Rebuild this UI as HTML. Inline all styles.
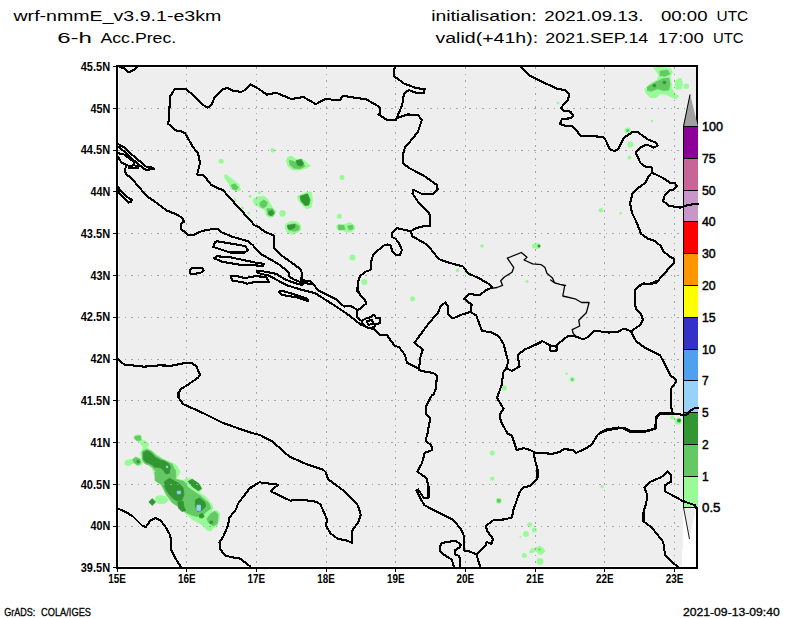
<!DOCTYPE html><html><head><meta charset="utf-8"><style>html,body{margin:0;padding:0;background:#fff;width:800px;height:618px;overflow:hidden}svg{display:block}text{font-family:"Liberation Sans",sans-serif}</style></head><body>
<svg width="800" height="618" viewBox="0 0 800 618">
<rect x="119" y="68" width="577" height="498" fill="#eeeeee"/>
<rect x="683" y="508" width="14" height="59" fill="#fff"/><rect x="682" y="549" width="1" height="18" fill="#fff"/>
<path d="M134.2,436.1 137.2,434.7 141,435.7 141.8,439.9 144.8,440.6 148.6,443.7 148.2,446 146.3,447.5 150.9,450.2 153.9,452.8 158.5,455.9 162.3,458.9 167.6,461.2 173.7,463.5 176.8,465.7 179.8,471.4 178.3,475.6 175.2,477 161.5,477 153.9,474.1 152.4,468 149.4,465 144.8,462.7 142.5,460.4 141,455.1 140.3,452.8 142.2,450.5 143.3,447.5 141,444.4 140.3,442.2 136.4,440.6 134.2,438.4Z M125,461.2 129.6,459.3 131.9,460 134.9,457 139.5,458.1 142.5,461.9 141,465.4 137.2,465.7 133.4,462.7 130.4,465 127.3,465.7 125,464.2Z M155,470 178.8,470 179.8,472.1 175.7,479.3 184,480.4 186.1,478.3 188.1,478.3 192.3,479.3 200.5,484.5 201.6,489.7 198.5,492.8 204.7,495.9 211.9,504.2 213,508.3 210.9,511.4 217.1,510.4 219.7,513.5 219.2,519.7 217.1,525.9 213,528 210.9,531.1 206.8,530 203.7,525.9 196.4,521.8 191.2,518.7 188.1,515.5 183,511.4 175.7,504.2 170.5,499 165.4,490.7 161.2,482.4 155,476.2Z M155.6,497 160,495.5 166,496.5 168.3,500 165,503.5 158,503.5 155.6,501Z M157,476.5 160,477 160,480 157,480Z M287.5,157.5 291.2,156.2 296.2,159.4 302.5,158.8 307.5,163.8 310.6,165.6 307.5,167.5 300,170 292.5,170 288.1,166.2 286.2,161.2Z M297.5,196.2 306.2,192.5 311.2,191.9 312.5,200 311.2,207.5 306.2,208.8 301.2,203.8 298.1,199.4Z M225,174.4 227.5,175.6 233.8,180.6 238.8,184.4 240.6,190 236.2,191.2 231.2,188.8 228.8,183.8 226.2,180 224.4,176.9Z M253.8,198.8 257.5,196.9 263.8,196.2 267.5,198.8 269.4,202.5 272.5,207.5 275.6,211.2 273.8,216.2 268.8,217.5 266.2,215 265,210 260,207.5 255,205 253.1,201.2Z M286.2,223.8 291.2,221.2 297.5,221.9 300.6,225 300.6,230 296.9,232.5 292.5,234.4 287.5,232.5 285,227.5Z M337.5,225 345,224.4 350,222.5 354.4,225.6 355,228.8 351.2,231.9 346.2,231.9 342.5,230 337.5,229.4 336.2,227.5Z M653.1,66.9 670,68.1 672.5,72.5 670,76.2 671.2,82.5 671.9,88.8 675,93.8 678.8,96.2 676.2,98.8 672.5,97.5 666.2,94.4 660,93.8 656.2,97.5 650,97.5 645.6,92.5 645,88.8 650,83.8 657.5,80 658.8,75 656.2,71.2Z M676.2,80 681.2,78.1 682.5,83.8 681.2,88.8 676.2,89.4 675,85Z M529.2,552.2 531.2,549 536,547.8 539.3,546.1 543.3,548.2 544.9,551.4 541.7,554.6 538.5,553.8 536,550.6 532.8,552.6Z" fill="#98fb98" stroke="#98fb98" stroke-width="0.8" stroke-linejoin="round"/>
<circle cx="686.2" cy="86.2" r="2.8" fill="#98fb98"/>
<circle cx="282.5" cy="213.8" r="3" fill="#98fb98"/>
<circle cx="221.2" cy="161.2" r="2.5" fill="#98fb98"/>
<circle cx="250" cy="196.2" r="1.5" fill="#98fb98"/>
<circle cx="242.5" cy="208" r="1.5" fill="#98fb98"/>
<circle cx="248.8" cy="213" r="1.5" fill="#98fb98"/>
<circle cx="259.4" cy="192.5" r="1.5" fill="#98fb98"/>
<circle cx="272.5" cy="150.6" r="2" fill="#98fb98"/>
<circle cx="235" cy="200" r="1.5" fill="#98fb98"/>
<circle cx="282.5" cy="213" r="3" fill="#98fb98"/>
<circle cx="339.4" cy="216.2" r="2.5" fill="#98fb98"/>
<circle cx="352.5" cy="257.5" r="3" fill="#98fb98"/>
<circle cx="364.4" cy="281.9" r="3" fill="#98fb98"/>
<circle cx="342" cy="177.5" r="2.5" fill="#98fb98"/>
<circle cx="272.5" cy="150" r="2" fill="#98fb98"/>
<circle cx="627.6" cy="130.4" r="3" fill="#98fb98"/>
<circle cx="630.4" cy="144.4" r="3" fill="#98fb98"/>
<circle cx="629.4" cy="157.6" r="2" fill="#98fb98"/>
<circle cx="558" cy="103" r="1.5" fill="#98fb98"/>
<circle cx="652" cy="121" r="1.2" fill="#98fb98"/>
<circle cx="600.9" cy="210.3" r="2.2" fill="#98fb98"/>
<circle cx="620.6" cy="213.2" r="1.2" fill="#98fb98"/>
<circle cx="537.5" cy="246" r="3" fill="#98fb98"/>
<circle cx="534.5" cy="246" r="2.5" fill="#98fb98"/>
<circle cx="482" cy="246" r="1.8" fill="#98fb98"/>
<circle cx="457.5" cy="270.4" r="1.8" fill="#98fb98"/>
<circle cx="466" cy="272" r="1.5" fill="#98fb98"/>
<circle cx="527" cy="281.6" r="1.5" fill="#98fb98"/>
<circle cx="412.5" cy="298.8" r="2.5" fill="#98fb98"/>
<circle cx="504.4" cy="387.9" r="2.5" fill="#98fb98"/>
<circle cx="572.2" cy="379.4" r="2.5" fill="#98fb98"/>
<circle cx="566.6" cy="373.8" r="1.2" fill="#98fb98"/>
<circle cx="678.3" cy="421.2" r="3.5" fill="#98fb98"/>
<circle cx="672.3" cy="417.4" r="2.2" fill="#98fb98"/>
<circle cx="492.2" cy="452.9" r="2.5" fill="#98fb98"/>
<circle cx="492.2" cy="478.6" r="2.2" fill="#98fb98"/>
<circle cx="498.8" cy="500.7" r="3" fill="#98fb98"/>
<circle cx="529.6" cy="524.7" r="2.5" fill="#98fb98"/>
<circle cx="534.3" cy="530.1" r="2.5" fill="#98fb98"/>
<circle cx="526" cy="534" r="3" fill="#98fb98"/>
<circle cx="520.5" cy="537" r="1" fill="#98fb98"/>
<circle cx="524.3" cy="555.4" r="2.5" fill="#98fb98"/>
<circle cx="540" cy="561.6" r="3.5" fill="#98fb98"/>
<circle cx="602.2" cy="486.6" r="1.8" fill="#98fb98"/>
<path d="M134.9,436.5 140.3,435.7 141,439.9 137.2,440.6 134.5,438.4Z M142.2,451.3 146.3,449.4 151.7,451.3 156.2,455.9 161.5,458.9 167.6,461.9 172.2,464.2 174.5,469.5 175.2,475.6 170.7,477 161.5,477 158.5,472.6 154.7,470.3 152.4,467.3 148.6,465 144.8,463.5 142.5,460.4Z M132.6,459.7 135.7,457.4 139.5,458.9 141,462.7 138,465 134.2,462.7Z M155,472.1 161.2,470 175.7,470 175.7,479.3 184,481.4 188.1,487.6 194.3,491.7 200.5,495.9 208.8,503.1 210.9,508.3 206.8,511.4 202.6,515.5 196.4,516.6 190.2,514.5 186.1,512.4 180.9,509.3 177.8,506.2 172.6,503.1 169.5,499 166.4,494.8 163.3,488.6 161.2,484.5 155,480.4Z M210.9,513.5 215,511.4 218.1,514.5 217.1,523.8 213,525.9 208.8,522.8 206.8,518.7Z M289.4,160 295,161.9 301.2,162.5 305,166.2 300,168.8 293.8,168.1 290,165Z M231.2,185 235,183.8 238.1,187.5 236.2,190 232.5,188.8Z M260,202.5 263.8,200 267.5,202.5 266.2,206.2 262.5,208.1 260,205.6Z M266.9,208.8 272.5,208.8 275,212.5 272.5,216.2 268.1,215Z M287.5,225 295,223.8 299.4,226.2 298.8,230 293.8,231.2 288.8,230Z M338.1,225 343.8,225.6 345,229.4 338.8,230Z M347.5,226.2 352.5,225 353.1,228.8 349.4,230Z M660,71.2 667.5,70 670,73.8 665,76.2 660,75.6Z M647.5,86.9 655,82.5 662.5,78.8 668.8,78.1 670,83.8 668.8,90 663.8,90.6 657.5,88.8 651.2,91.2 647.5,90.6Z" fill="#64c864" stroke="#64c864" stroke-width="0.8" stroke-linejoin="round"/>
<circle cx="627.6" cy="130.4" r="1.5" fill="#64c864"/>
<circle cx="572.2" cy="379.4" r="1.2" fill="#64c864"/>
<circle cx="498.8" cy="500.7" r="2" fill="#64c864"/>
<circle cx="539.3" cy="549.4" r="1" fill="#64c864"/>
<path d="M143.3,452.8 147.1,450.5 150.9,452.8 155.5,457.4 160,460 164.6,461.2 168.4,463.5 170.7,467.3 169.1,471.1 167.6,473.3 164.6,471.1 160.8,468 157.7,467.3 154.7,467.3 152.4,465 149.4,463.5 145.6,461.9 143.3,458.9Z M136.8,460.8 138.7,460.4 139.5,462.3 137.6,463.1Z M152.2,498.6 155.6,502 152.2,505.4 148.8,502Z M164.8,481.4 169.5,478.3 173.6,480.4 178.8,483.5 183,487.6 184,494.8 181.9,500 177.8,501.1 173.6,499 169.5,494.8 166.4,490.7 164.3,485.5Z M177.8,502.1 183,501.1 184,507.3 186.1,510.4 181.9,511.4 178.8,508.3Z M188.1,481.4 192.3,479.3 198.5,483.5 201.6,488.6 198.5,490.7 192.3,486.6Z M195.4,500 199.5,498 204.7,502.1 205.7,506.2 201.6,510.4 197.4,511.4 195.4,506.2Z M199.5,514.5 202.6,513.5 204.2,516.6 202.1,518.1 199.5,517.6Z M164.3,470 169.5,470 169.5,473.1 166.4,474.1 164.3,472.1Z M209.9,521.2 212.5,521.2 212.5,523.3 209.9,523.3Z M296.2,160.6 301.2,159.4 303.8,163.8 301.2,166.2 297.5,165Z M300,196.2 307.5,193.8 310,200 308.8,205 305,205.6 301.2,201.2Z M268.8,211.2 272.5,210.6 273.8,213.8 271.2,215.6 268.8,214.4Z M287.5,225.6 295,224.4 295,227.5 290.6,229.4 288.1,228.8Z" fill="#329632" stroke="#329632" stroke-width="0.8" stroke-linejoin="round"/>
<circle cx="654.4" cy="85.6" r="1.8" fill="#329632"/>
<circle cx="664.4" cy="82.5" r="1.8" fill="#329632"/>
<circle cx="539" cy="246" r="1.5" fill="#329632"/>
<circle cx="679" cy="420.5" r="2" fill="#329632"/>
<path d="M166.1,466.1 167.6,466.1 168,467.6 166.7,467.9Z M177.3,491.2 180.4,491.2 180.4,493.8 177.3,493.8Z M196.9,505.2 200.5,505.2 200.5,510.4 196.9,510.4Z" fill="#96d2fa" stroke="#96d2fa" stroke-width="0.8" stroke-linejoin="round"/>
<path d="M186.5,67V567 M256.5,67V567 M326.5,67V567 M395.5,67V567 M465.5,67V567 M535.5,67V567 M604.5,67V567 M674.5,67V567 M118,108.5H696 M118,150.5H696 M118,191.5H696 M118,233.5H696 M118,275.5H696 M118,317.5H696 M118,359.5H696 M118,400.5H696 M118,442.5H696 M118,484.5H696 M118,526.5H682" stroke="#a4a4a4" stroke-width="1" stroke-dasharray="2 4.5 1 5.5" fill="none" shape-rendering="crispEdges"/>
<rect x="117" y="66" width="580" height="502" fill="none" stroke="#000" stroke-width="2"/>
<path d="M683,126.5L690,94L698,126.5Z" fill="#a0a0a0"/>
<path d="M683.5,126.5L690,94.5" stroke="#000" stroke-width="1" fill="none"/>
<rect x="684" y="126" width="14" height="32" fill="#8c0099"/>
<rect x="684" y="158" width="14" height="32" fill="#c86496"/>
<rect x="684" y="190" width="14" height="31" fill="#c896c8"/>
<rect x="684" y="221" width="14" height="32" fill="#ff0000"/>
<rect x="684" y="253" width="14" height="32" fill="#ff9600"/>
<rect x="684" y="285" width="14" height="32" fill="#ffff00"/>
<rect x="684" y="317" width="14" height="32" fill="#3232c8"/>
<rect x="684" y="349" width="14" height="31" fill="#50a0f0"/>
<rect x="684" y="380" width="14" height="32" fill="#96d2fa"/>
<rect x="684" y="412" width="14" height="32" fill="#329632"/>
<rect x="684" y="444" width="14" height="32" fill="#64c864"/>
<rect x="684" y="476" width="14" height="31" fill="#98fb98"/>
<path d="M684,508L689.5,539L696,508Z" fill="#eeeeee"/>
<path d="M683.5,507.5L689.5,539" stroke="#000" stroke-width="0.9" fill="none"/>
<path d="M683,126.5H698 M683,158.5H698 M683,190.5H698 M683,221.5H698 M683,253.5H698 M683,285.5H698 M683,317.5H698 M683,349.5H698 M683,380.5H698 M683,412.5H698 M683,444.5H698 M683,476.5H698 M683,507.5H698 M683.5,126V508" stroke="#000" stroke-width="1" fill="none" shape-rendering="crispEdges"/>
<text x="702" y="130.8" font-size="12" stroke="#000" stroke-width="0.45" textLength="21" lengthAdjust="spacingAndGlyphs" fill="#000">100</text>
<text x="702" y="162.8" font-size="12" stroke="#000" stroke-width="0.45" textLength="13.7" lengthAdjust="spacingAndGlyphs" fill="#000">75</text>
<text x="702" y="194.8" font-size="12" stroke="#000" stroke-width="0.45" textLength="13.7" lengthAdjust="spacingAndGlyphs" fill="#000">50</text>
<text x="702" y="225.8" font-size="12" stroke="#000" stroke-width="0.45" textLength="13.7" lengthAdjust="spacingAndGlyphs" fill="#000">40</text>
<text x="702" y="257.8" font-size="12" stroke="#000" stroke-width="0.45" textLength="13.7" lengthAdjust="spacingAndGlyphs" fill="#000">30</text>
<text x="702" y="289.8" font-size="12" stroke="#000" stroke-width="0.45" textLength="13.7" lengthAdjust="spacingAndGlyphs" fill="#000">20</text>
<text x="702" y="321.8" font-size="12" stroke="#000" stroke-width="0.45" textLength="13.7" lengthAdjust="spacingAndGlyphs" fill="#000">15</text>
<text x="702" y="353.8" font-size="12" stroke="#000" stroke-width="0.45" textLength="13.7" lengthAdjust="spacingAndGlyphs" fill="#000">10</text>
<text x="702" y="384.8" font-size="12" stroke="#000" stroke-width="0.45" fill="#000">7</text>
<text x="702" y="416.8" font-size="12" stroke="#000" stroke-width="0.45" fill="#000">5</text>
<text x="702" y="448.8" font-size="12" stroke="#000" stroke-width="0.45" fill="#000">2</text>
<text x="702" y="480.8" font-size="12" stroke="#000" stroke-width="0.45" fill="#000">1</text>
<text x="702" y="511.8" font-size="12" stroke="#000" stroke-width="0.45" textLength="18.5" lengthAdjust="spacingAndGlyphs" fill="#000">0.5</text>
<path d="M117.5,66 124,68.4 128.8,72.2 134.4,69.4 137.2,67 M197.2,174.4 200,163.2 198.2,153.8 192.5,146.3 185,133.2 181.3,131.3 175.7,130.4 168.2,123.8 169.1,116.3 170,96.6 174.7,89.1 186,89.1 192.5,94.7 201.9,104.1 207.6,107.8 211.3,105 215,96.6 222.6,89.1 227.3,88.1 233.8,91 241.3,91.9 245,90 250.7,84.4 257.5,88.1 266.9,94.7 276.3,92.8 291.3,99 303.5,97 315.7,104.1 325,99.4 330.7,99.4 333.5,100.3 340,100.3 342.9,95.6 347.6,96.6 366.3,99.4 379.5,106.9 380.4,112.5 378.5,114.4 387,120 396.3,120 396.6,118.2 M197.2,174.4 203.8,175.6 208.5,181.3 211.3,185 218.8,188.8 222.6,189.7 230,198.1 239.5,208.5 248.8,218.8 254.5,225.3 257.5,226.3 265,231.9 274.4,235.7 274.4,248.8 280,254.4 293.2,263.8 300.7,269.4 302.5,275 300.7,278.8 302.5,282.6 311.9,284.4 M396.6,118.2 399.4,111.6 402.2,105 404,93.8 408.8,90 416.3,92.8 423.8,92.8 424.7,89.1 416.3,88.1 404,83.5 393.8,76 394.7,66.6 M396.6,118.2 407.8,114.4 418.1,115.3 421.9,120 418.1,131.3 412.5,138.8 405,147.2 403.1,153.8 403.1,163.2 408.8,167.9 423.8,175.6 436.9,185 437.8,189.7 432.2,194.4 422.8,194.4 413.5,189.7 412.5,193.5 418.1,201.9 425.6,209.4 430.3,215 430,226.3 426.3,225.6 416.3,228.1 410.6,231.3 M410.6,231.3 402.5,229.4 396.9,228.1 391.9,233.1 391.9,236.9 395.6,238.8 400,245 401.9,250 400,255 395.6,255 392.5,251.3 390.6,245.6 387.5,244.4 383.8,245.6 376.9,251.3 373.1,255 371.3,261.3 370.6,270 365,271.9 360,276.3 358.1,281.3 357.5,292 M410.6,231.3 412.5,236.3 427.5,245 438.8,259.1 446.3,261.9 463.2,266.6 467.9,273.2 480,278.8 489.4,284.4 M520.4,66.6 528.8,75 539.4,80.6 558.1,89.1 564.7,90 569.4,94.7 567.5,100.3 561,107.8 563.8,110.7 570.3,111.6 573.2,115.3 571.3,118.2 561.9,119.1 560,123.8 564.7,125.7 573.2,126.6 577.8,132.2 580.7,136 588.2,136 603.2,136.9 605,138.8 609.7,149.1 614.4,151 618.2,149.1 623.8,137.9 632.3,132.2 637.9,132.2 648.2,139.7 656.2,142.6 657.5,145.8 653.8,147.6 646.9,144.5 640,147.6 635.6,152.6 640.6,163.2 645,166.4 651.9,167.6 651.9,172.6 M651.9,172.6 661.2,177 670,182.6 675,183.2 676.9,186.4 673.8,189.5 670,190.1 665,194.5 663.1,200.8 668.8,205.8 680,207.6 687.5,205.1 695,203.9 698,203.9 M651.9,172.6 648.8,175.8 645.6,182.6 636.2,189.5 632.5,193.2 630,203.2 631.2,209.5 632.5,214 636.2,221.5 641.2,234 647.5,238.4 655,240.9 661.2,246.5 663.1,250.9 669.4,256.5 673.8,258.4 673.8,263.4 670,267.1 665,272.8 656.2,282.8 650,284 643.8,283.4 640,285.2 635,290.2 M117.5,358.8 124,364.4 143.8,366.7 158.8,365.4 171.9,365.7 186.9,362.6 192.5,363.5 196.3,366.3 200,374.7 198.2,377.6 188.8,384.1 181.3,388.8 178.5,392.6 178.5,396 M124.5,170 125.8,173.8 132,178.8 138.3,186.3 147,196.3 154.1,201 166.3,210.3 175.7,214.1 182.2,217.8 184.1,221.6 181.3,223.5 181.3,229.1 187.9,234.7 194.4,234.7 201.9,231 212.2,229.1 217.9,229.1 220.7,231.9 232,236.6 247.9,241.3 252.6,245 260,253.5 280,265 288.8,272.5 289.4,276.9 295,280 300,281.9 302.5,285 M302.5,275 301.6,278.8 304.4,280.6 310,281.2 315,286.2 317.5,290 330,296.1 337,299.6 344.1,306.6 350.1,305.6 355.1,308.6 357.6,310.6 M357.5,292 357.1,288 360.1,295 365.1,300.1 366.1,303.6 363.1,306.1 357.6,310.6 357.1,312.1 357.1,317.1 360.1,320.2 M256.9,271.2 262.5,271.2 276.2,273.8 285,279.4 295,283.1 301.9,285 305,281.2 M256.9,271.2 258.1,273.1 268.8,275.6 286.2,285 300,289.4 315,293.1 330,302.6 340,309.1 350.1,316.1 360.1,324.2 366,327 374.2,329.2 380.2,335.2 387.2,335.2 391.2,341.2 394.5,345.4 399.4,347.5 405,355 406.9,362.6 418.1,368.2 421,371 433.2,372.9 436.9,375.7 436,387.9 433.2,395.4 M489.4,284.4 492.2,287.5 485.7,290.3 480,295 468.8,294.1 464.1,298.8 468.8,302.5 471.6,304.4 470.7,311.9 M470.7,311.9 461.3,314.7 452.9,318.5 448.2,314.7 448.2,306.3 445.3,302.5 440.7,306.3 437.8,312.8 427.5,325 414.4,342.9 422.8,349.4 420,358.8 419.1,370 421,371 M470.7,311.9 476.3,315.6 481.9,330.7 491.3,332.5 498.8,336.3 503.5,343.8 508.2,361.6 506.3,368.2 503.5,371.9 501.6,385 497.9,395.4 M506.3,368.2 512,371 519.5,366.3 517.6,355 525,349.4 540,342.9 M530,347.5 542.2,341 550.6,345.7 556.3,346.6 558.1,343.8 567.5,336.3 575,336.3 582.5,339.1 586.3,338.2 594.7,330.7 608.8,332.5 617,332.2 622.6,329.2 627.1,329.5 630.9,331.4 M630.9,331.4 640.7,324.6 642.9,319.4 640.7,313.3 636.1,308.8 634.6,303.6 634.6,298.8 635.1,289.4 642.6,283.8 650,283.8 659.5,280 M630.9,331.4 636.1,341.2 645.2,348 660.2,355.5 666.3,366.8 670.8,375.8 675.3,378.9 676,382 671.5,388 670.8,392.6 670.8,404.6 672.3,412.9 M600,433.2 604.5,431 615.1,428.7 622.6,428 630.1,431.7 645.2,431.7 655.7,428.7 656.5,416.7 660.2,412.9 669.3,412.9 683.6,414.9 687.3,414.4 690.4,410.6 694.9,408 697.9,408 M178.5,396 178.5,397.5 183.2,404.1 200,411.6 222.6,422.8 241.3,429.4 252.6,433.2 260,435 M117,508.4 124,511 132.8,516.3 142.4,525.9 145.9,526.8 150.3,520.6 155.5,518 160.8,520.6 166,527.7 170.4,535.5 171.3,550.4 176.5,560 180.9,567 M258.2,482.9 250.7,487.6 248.4,490 243.1,497 237.8,504 236.1,509.3 229.1,518 228.2,525 223.8,535.5 219.5,542.5 220.3,549.5 225.6,555.7 232.6,557.4 239.6,558.3 250,566.2 M260,435 272.5,441.6 289.4,456.6 306.3,464.1 323.2,469.7 326,472.5 327.9,479.1 341.9,489.4 351.3,497.9 357.9,505.4 360.7,514.7 358.8,521.3 352.2,530.7 352.2,542.9 345.7,540 338.2,539.1 330.7,533.5 326,526 326.9,519.4 325,514.7 320.4,504.4 315.7,501.6 300.7,499.7 290.3,500.6 270.6,491.3 278.1,484.7 259.4,482.3 250,488.4 M433.2,395.4 432.2,394.7 426.6,405 425.6,413.5 430.3,418.1 427.5,433.2 425.6,440.7 431.3,445.3 432.2,450 424.7,452.9 421.9,463.2 417.2,471.6 426.6,478.2 428.5,486.6 428.5,497.9 423.8,497.9 418.1,489.4 416.3,490.4 421,499.8 424.7,505.4 M497.9,395.4 496.9,397.5 503.5,408.8 499.8,414.4 500.7,421 507.3,433.2 512,436 516.6,450 524.1,448.2 530,450 533.8,451.9 534.7,459.4 537.5,468.8 537.5,478.2 530.7,485.7 523.2,487.6 519.5,492.3 514.8,506 M533.8,452.5 552.5,453.8 560,451.9 563.8,449.1 573.2,450 576,452.9 586.3,448.2 591.9,444.4 597.5,435 600.4,432.2 606.9,429.4 618.2,427.5 625.7,428.5 631.3,431.3 644.4,431.3 654.8,428.5 656.6,418.1 660.4,413.5 670.7,413.5 680,414.4 M644.4,487.6 650,481.9 661.3,477.2 667.5,471.5 671.2,475.2 671.2,481.5 665,485.2 665,491.5 670,494 682.5,500.9 695,505.2 696.2,507.8 M644.4,487.6 647.3,495.1 646.3,502.6 645.4,506 M117.8,143.8 123.5,147 133,155.5 146,166.5 153.1,167.8 153.8,169.2 146.2,169.7 M118.7,146.8 123.5,150.9 133.6,160.2 144.3,169 146.2,169.7 M118.4,153.3 124.1,154.5 129.8,158.9 134.2,162.1 133.6,165.3 130.4,165.9 M118.4,157.2 121,162 126.6,165.3 130.4,165.9 129.2,168.4 138,168.4 137.4,166.5 136.1,165.9 139.3,165.3 144.3,169 M126.6,165.3 125.4,168.4 124.7,170.3 126,174.1 132,178.8 M440.7,543.8 446.3,541.9 455.7,541 461.3,544.7 459.4,547.5 454.7,550.4 454.7,554.1 459.4,556 460.4,566.3 M440.7,544.7 439.7,550.4 444.4,555 451.9,559.7 453.8,566.3 M424.7,505.4 426.6,506.3 438.8,512.8 453.8,520.3 461.3,529.7 464.1,536.3 464.1,550.4 468.8,551.3 476.3,554.1 481.9,549.4 485.7,545.7 486.6,541.9 491.3,543.8 493.2,539.1 487.6,531.6 485.7,526 493.2,520.3 504.4,519.4 512,517.5 513.8,508.1 514.8,506 M476.3,554.1 480,566.3 M645.4,506 643.5,511.9 643.5,521.3 652,527.8 663.2,541.9 665.1,555 672.6,562.5 678.2,567.2 M550.6,345.7 556.3,346.6 557.2,350.4 550.6,351 549.7,347.5 550.6,345.7 M215.1,242.2 217,241.3 245,246 247.9,249.7 245,252.5 230,252.5 218.8,248.8 213.2,246.9Z M214.1,258.2 217,256.3 230,257.2 255,262.5 263.8,263.8 263.1,265.6 258.8,265.6 239.5,264.7 222.6,261.9Z M189.7,270.4 192.5,267.6 201.9,267.6 203.8,270.4 200,273.2 190.7,274.1Z M231.2,275.6 237.5,276.2 245,278.1 255,276.2 266.2,276.9 268.8,281.9 255,281.9 246.9,283.8 243.8,282.5 232.5,280.6 231.2,278.1Z M278.8,291.9 281.2,290.6 292.5,293.8 307.5,298.8 308.1,301.2 297.5,297.5 282.5,295Z M117.6,186.3 122,192.5 129.5,198.8 132,199.4 130.8,201.9 128.3,202.5 119.5,193.8Z M362,320.5 366,318.5 371,317 374,314.5 376.2,318.2 379.7,317.6 379.7,323.2 375.7,324.2 374.2,327.2 369.2,328.2 365.1,326.2 362.1,323.2Z M366.5,321 372,320 373.5,323.5 368.5,325Z" stroke="#000" stroke-width="2.1" fill="none" stroke-linejoin="round" stroke-linecap="round" shape-rendering="crispEdges"/>
<path d="M507.3,258.2 521.3,252.5 527,257.2 524.1,260 532.6,263.8 541.3,264.7 545,267.6 546.9,273.2 552.5,277.9 554.4,282.6 560,284.4 565.6,285.4 M507.3,258.2 513.8,267.6 512,272.3 504.4,277 500.7,280.7 502.6,285.4 M502.6,285.4 497,287.5 491.3,288.4 M550.6,280 554.4,282.8 564.7,285.6 562.8,296 575,298.8 581.6,302.5 589.1,302.5 586.3,312.8 578.8,320.3 579.7,326 572.2,329.7 573.2,333.5 576,336.3" stroke="#000" stroke-width="1.3" fill="none" stroke-linejoin="round" stroke-linecap="round"/>
<text x="80.7" y="70.7" font-size="12" font-weight="bold" textLength="29.4" lengthAdjust="spacingAndGlyphs" fill="#000">45.5N</text>
<text x="90.4" y="112.5" font-size="12" font-weight="bold" textLength="19.8" lengthAdjust="spacingAndGlyphs" fill="#000">45N</text>
<text x="80.7" y="154.3" font-size="12" font-weight="bold" textLength="29.4" lengthAdjust="spacingAndGlyphs" fill="#000">44.5N</text>
<text x="90.4" y="196.1" font-size="12" font-weight="bold" textLength="19.8" lengthAdjust="spacingAndGlyphs" fill="#000">44N</text>
<text x="80.7" y="237.9" font-size="12" font-weight="bold" textLength="29.4" lengthAdjust="spacingAndGlyphs" fill="#000">43.5N</text>
<text x="90.4" y="279.6" font-size="12" font-weight="bold" textLength="19.8" lengthAdjust="spacingAndGlyphs" fill="#000">43N</text>
<text x="80.7" y="321.4" font-size="12" font-weight="bold" textLength="29.4" lengthAdjust="spacingAndGlyphs" fill="#000">42.5N</text>
<text x="90.4" y="363.2" font-size="12" font-weight="bold" textLength="19.8" lengthAdjust="spacingAndGlyphs" fill="#000">42N</text>
<text x="80.7" y="405" font-size="12" font-weight="bold" textLength="29.4" lengthAdjust="spacingAndGlyphs" fill="#000">41.5N</text>
<text x="90.4" y="446.8" font-size="12" font-weight="bold" textLength="19.8" lengthAdjust="spacingAndGlyphs" fill="#000">41N</text>
<text x="80.7" y="488.6" font-size="12" font-weight="bold" textLength="29.4" lengthAdjust="spacingAndGlyphs" fill="#000">40.5N</text>
<text x="90.4" y="530.4" font-size="12" font-weight="bold" textLength="19.8" lengthAdjust="spacingAndGlyphs" fill="#000">40N</text>
<text x="80.7" y="572.2" font-size="12" font-weight="bold" textLength="29.4" lengthAdjust="spacingAndGlyphs" fill="#000">39.5N</text>
<text x="108.2" y="583" font-size="12.5" font-weight="bold" textLength="17.6" lengthAdjust="spacingAndGlyphs" fill="#000">15E</text>
<text x="177.9" y="583" font-size="12.5" font-weight="bold" textLength="17.6" lengthAdjust="spacingAndGlyphs" fill="#000">16E</text>
<text x="247.6" y="583" font-size="12.5" font-weight="bold" textLength="17.6" lengthAdjust="spacingAndGlyphs" fill="#000">17E</text>
<text x="317.3" y="583" font-size="12.5" font-weight="bold" textLength="17.6" lengthAdjust="spacingAndGlyphs" fill="#000">18E</text>
<text x="387" y="583" font-size="12.5" font-weight="bold" textLength="17.6" lengthAdjust="spacingAndGlyphs" fill="#000">19E</text>
<text x="456.6" y="583" font-size="12.5" font-weight="bold" textLength="17.6" lengthAdjust="spacingAndGlyphs" fill="#000">20E</text>
<text x="526.3" y="583" font-size="12.5" font-weight="bold" textLength="17.6" lengthAdjust="spacingAndGlyphs" fill="#000">21E</text>
<text x="596" y="583" font-size="12.5" font-weight="bold" textLength="17.6" lengthAdjust="spacingAndGlyphs" fill="#000">22E</text>
<text x="665.7" y="583" font-size="12.5" font-weight="bold" textLength="17.6" lengthAdjust="spacingAndGlyphs" fill="#000">23E</text>
<path d="M113,66.5H117 M113,108.5H117 M113,150.5H117 M113,191.5H117 M113,233.5H117 M113,275.5H117 M113,317.5H117 M113,359.5H117 M113,400.5H117 M113,442.5H117 M113,484.5H117 M113,526.5H117 M113,567.5H117 M117.5,568V572 M186.5,568V572 M256.5,568V572 M326.5,568V572 M395.5,568V572 M465.5,568V572 M535.5,568V572 M604.5,568V572 M674.5,568V572" stroke="#000" stroke-width="1" fill="none" shape-rendering="crispEdges"/>
<text x="431.15" y="21" font-size="15.3" textLength="105.41" lengthAdjust="spacingAndGlyphs" fill="#000">initialisation:</text>
<text x="544.34" y="21" font-size="15.3" textLength="99.06" lengthAdjust="spacingAndGlyphs" fill="#000">2021.09.13.</text>
<text x="660.91" y="21" font-size="15.3" textLength="46.59" lengthAdjust="spacingAndGlyphs" fill="#000">00:00</text>
<text x="716.53" y="21" font-size="15.3" textLength="31.69" lengthAdjust="spacingAndGlyphs" fill="#000">UTC</text>
<text x="435.47" y="43" font-size="15.3" textLength="102.62" lengthAdjust="spacingAndGlyphs" fill="#000">valid(+41h):</text>
<text x="545.35" y="43" font-size="15.3" textLength="102.96" lengthAdjust="spacingAndGlyphs" fill="#000">2021.SEP.14</text>
<text x="657.76" y="43" font-size="15.3" textLength="45.95" lengthAdjust="spacingAndGlyphs" fill="#000">17:00</text>
<text x="713.03" y="43" font-size="15.3" textLength="30.60" lengthAdjust="spacingAndGlyphs" fill="#000">UTC</text>
<text x="13.47" y="21" font-size="15.3" textLength="207.82" lengthAdjust="spacingAndGlyphs" fill="#000">wrf-nmmE_v3.9.1-e3km</text>
<text x="57.23" y="43" font-size="15.3" textLength="34.77" lengthAdjust="spacingAndGlyphs" fill="#000">6-h</text>
<text x="100.42" y="43" font-size="15.3" textLength="75.85" lengthAdjust="spacingAndGlyphs" fill="#000">Acc.Prec.</text>
<text x="4.13" y="616" font-size="10.8" textLength="31.05" lengthAdjust="spacingAndGlyphs" stroke="#000" stroke-width="0.3" fill="#000">GrADS:</text>
<text x="41.00" y="616" font-size="10.8" textLength="50.03" lengthAdjust="spacingAndGlyphs" stroke="#000" stroke-width="0.3" fill="#000">COLA/IGES</text>
<text x="682.98" y="616" font-size="10.8" textLength="96.78" lengthAdjust="spacingAndGlyphs" stroke="#000" stroke-width="0.3" fill="#000">2021-09-13-09:40</text>
</svg></body></html>
